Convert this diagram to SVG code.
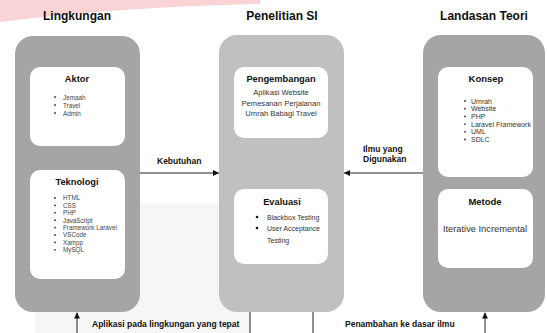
<svg xmlns="http://www.w3.org/2000/svg" width="547" height="333" viewBox="0 0 547 333">
<defs>
<marker id="ah" viewBox="0 0 10 10" refX="10" refY="5" markerWidth="6" markerHeight="6" orient="auto" markerUnits="userSpaceOnUse">
<path d="M0,0 L10,5 L0,10 Z" fill="#111"/>
</marker>
</defs>
<style>
text{font-family:"Liberation Sans",Arial,sans-serif;}
.title{font-size:12px;font-weight:bold;fill:#111;text-anchor:middle;}
.big{stroke:none;}
.dark{fill:#a5a5a5;}
.light{fill:#c0c0c0;}
.card{fill:#ffffff;}
.h{font-size:9.3px;font-weight:bold;fill:#111;text-anchor:middle;}
.li{font-size:6.3px;fill:#444;}
.li2{font-size:7px;fill:#333;}
.c{font-size:7.6px;fill:#333;text-anchor:middle;}
.lbl{font-size:8.5px;font-weight:bold;fill:#111;}
.edge{stroke:#222;stroke-width:1;fill:none;}
.dot{fill:#333;}
</style>
<rect x="0" y="0" width="547" height="333" fill="#ffffff"/>
<path d="M0,0 H260 V4 Q120,7 0,22 Z" fill="#fad3d6"/>
<rect x="35" y="203" width="215" height="130" fill="#f6f6f6"/>

<text class="title" x="77" y="20">Lingkungan</text>
<text class="title" x="282" y="20">Penelitian SI</text>
<text class="title" x="484" y="20">Landasan Teori</text>

<g id="lingkungan">
<rect class="big dark" x="15" y="36" width="125" height="276" rx="18"/>
</g>
<g id="aktor">
<rect class="card" x="30" y="67" width="95" height="79" rx="10"/>
<text class="h" x="77" y="82">Aktor</text>
<circle class="dot" cx="55" cy="97" r="0.9"/><text class="li" x="63" y="99.5">Jemaah</text>
<circle class="dot" cx="55" cy="105" r="0.9"/><text class="li" x="63" y="107.5">Travel</text>
<circle class="dot" cx="55" cy="113" r="0.9"/><text class="li" x="63" y="115.5">Admin</text>
</g>
<g id="teknologi">
<rect class="card" x="30" y="170" width="95" height="109" rx="10"/>
<text class="h" x="77" y="185">Teknologi</text>
<circle class="dot" cx="55" cy="198" r="0.9"/><text class="li" x="63" y="200.3">HTML</text>
<circle class="dot" cx="55" cy="205.4" r="0.9"/><text class="li" x="63" y="207.7">CSS</text>
<circle class="dot" cx="55" cy="212.8" r="0.9"/><text class="li" x="63" y="215.1">PHP</text>
<circle class="dot" cx="55" cy="220.2" r="0.9"/><text class="li" x="63" y="222.5">JavaScript</text>
<circle class="dot" cx="55" cy="227.6" r="0.9"/><text class="li" x="63" y="229.9">Framework Laravel</text>
<circle class="dot" cx="55" cy="235" r="0.9"/><text class="li" x="63" y="237.3">VSCode</text>
<circle class="dot" cx="55" cy="242.4" r="0.9"/><text class="li" x="63" y="244.7">Xampp</text>
<circle class="dot" cx="55" cy="249.8" r="0.9"/><text class="li" x="63" y="252.1">MySQL</text>
</g>

<g id="penelitian">
<rect class="big light" x="219" y="35" width="125" height="277" rx="18"/>
</g>
<g id="pengembangan">
<rect class="card" x="234" y="67" width="94" height="71" rx="10"/>
<text class="h" x="281" y="82">Pengembangan</text>
<text class="c" x="281" y="95">Aplikasi Website</text>
<text class="c" x="281" y="106">Pemesanan Perjalanan</text>
<text class="c" x="281" y="116">Umrah Babagi Travel</text>
</g>
<g id="evaluasi">
<rect class="card" x="234" y="189" width="94" height="75" rx="10"/>
<text class="h" x="282" y="205">Evaluasi</text>
<circle cx="257" cy="217" r="1.3" fill="#111"/><text class="li2" x="267" y="219.5">Blackbox Testing</text>
<circle cx="257" cy="228" r="1.3" fill="#111"/><text class="li2" x="267" y="230.5">User Acceptance</text>
<text class="li2" x="267" y="242.5">Testing</text>
</g>

<g id="landasan">
<rect class="big dark" x="423" y="35" width="122" height="277" rx="18"/>
</g>
<g id="konsep">
<rect class="card" x="438" y="67" width="95" height="110" rx="10"/>
<text class="h" x="486" y="82" style="font-size:9.5px">Konsep</text>
<circle class="dot" cx="465" cy="101" r="0.9"/><text class="li2" x="471" y="103.5">Umrah</text>
<circle class="dot" cx="465" cy="108.7" r="0.9"/><text class="li2" x="471" y="111.2">Website</text>
<circle class="dot" cx="465" cy="116.4" r="0.9"/><text class="li2" x="471" y="118.9">PHP</text>
<circle class="dot" cx="465" cy="124.1" r="0.9"/><text class="li2" x="471" y="126.6">Laravel Framework</text>
<circle class="dot" cx="465" cy="131.8" r="0.9"/><text class="li2" x="471" y="134.3">UML</text>
<circle class="dot" cx="465" cy="139.5" r="0.9"/><text class="li2" x="471" y="142">SDLC</text>
</g>
<g id="metode">
<rect class="card" x="438" y="189" width="95" height="79" rx="10"/>
<text class="h" x="485" y="204.5" style="font-size:9.5px">Metode</text>
<text x="485" y="232" style="font-size:9.3px;fill:#333;text-anchor:middle">Iterative Incremental</text>
</g>

<g id="connectors">
<line class="edge" x1="140" y1="173" x2="219" y2="173" marker-end="url(#ah)"/>
<line class="edge" x1="423" y1="173" x2="344" y2="173" marker-end="url(#ah)"/>
<line class="edge" x1="77" y1="333" x2="77" y2="312.5" marker-end="url(#ah)"/>
<line class="edge" x1="250" y1="312" x2="250" y2="333"/>
<line class="edge" x1="313" y1="312" x2="313" y2="333"/>
<line class="edge" x1="485" y1="333" x2="485" y2="312.5" marker-end="url(#ah)"/>
<text class="lbl" x="157" y="164">Kebutuhan</text>
<text class="lbl" x="363" y="152">Ilmu yang</text>
<text class="lbl" x="363" y="162">Digunakan</text>
<text class="lbl" x="92" y="327">Aplikasi pada lingkungan yang tepat</text>
<text class="lbl" x="345" y="327">Penambahan ke dasar ilmu</text>
</g>
</svg>
